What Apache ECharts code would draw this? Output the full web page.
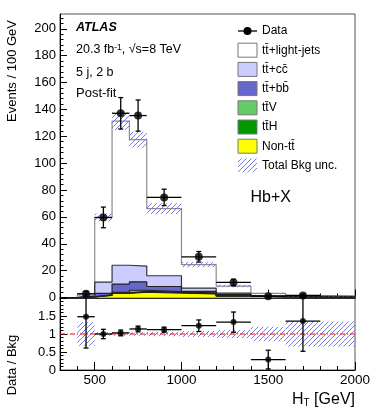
<!DOCTYPE html>
<html>
<head>
<meta charset="utf-8">
<title>Hb+X HT</title>
<script src="https://cdn.jsdelivr.net/npm/echarts@6/dist/echarts.min.js"></script>
<style>
  html, body { margin: 0; padding: 0; background: #fff; }
  #main { width: 374px; height: 414px; }
</style>
</head>
<body>
<div id="main"></div>
<script>
// bin edges (GeV)
var binLo = [400, 500, 600, 700, 800, 1000, 1200, 1400, 1600];
var binHi = [500, 600, 700, 800, 1000, 1200, 1400, 1600, 2000];

// background components, events / 100 GeV (bottom of stack first)
var nonTT   = [0.4, 1.5, 3.0, 4.0, 3.3, 2.6, 1.0, 0.4, 0.3];
var ttH     = [0.05, 0.2, 0.4, 0.6, 0.5, 0.3, 0.15, 0.05, 0.05];
var ttV     = [0.05, 0.2, 0.5, 0.8, 0.6, 0.4, 0.2, 0.1, 0.05];
var ttbb    = [0.3, 1.2, 6.1, 6.3, 3.8, 1.2, 1.0, 0.3, 0.2];
var ttcc    = [0.5, 8.4, 14.0, 11.7, 8.0, 2.5, 0.9, 0.4, 0.3];
var ttlight = [0.7, 48.0, 107.2, 94.1, 49.9, 17.4, 5.25, 1.75, 0.2];
// relative total background uncertainty per bin
var bkgRelUnc = [0.33, 0.05, 0.05, 0.05, 0.06, 0.08, 0.11, 0.2, 0.35];

// data points
var dataX   = [450, 550, 650, 750, 900, 1100, 1300, 1500, 1700];
var dataXLo = [400, 500, 600, 700, 800, 1000, 1200, 1400, 1600];
var dataXHi = [500, 600, 700, 800, 1000, 1200, 1400, 1600, 1800];
var dataY   = [2.8, 59.6, 137.1, 135.4, 74.5, 30.3, 11.2, 1.0, 1.5];
var dataErr = [1.7, 7.7, 11.7, 11.6, 6.1, 3.9, 2.4, 0.7, 0.9];

// data / bkg
var ratioY   = [1.48, 1.0, 1.03, 1.14, 1.12, 1.23, 1.33, 0.29, 1.36];
var ratioErr = [0.87, 0.13, 0.08, 0.08, 0.07, 0.16, 0.28, 0.26, 0.84];

// tick labels
var xTicks = [500, 1000, 1500, 2000];
var yTicks = [0, 20, 40, 60, 80, 100, 120, 140, 160, 180, 200];
var rTicks = [0, 0.5, 1, 1.5];
var rTickMarks = [0, 0.5, 1, 1.5, 2];

var FONT = 'Liberation Sans, Arial, Helvetica, sans-serif';

// stack the components
var comps = [nonTT, ttH, ttV, ttbb, ttcc, ttlight];
var compFill = ['#ffff00', '#009900', '#66cc66', '#6666cc', '#ccccff', '#ffffff'];
var compLine = ['#222', '#222', '#222', '#222', '#333', '#8a8a8a'];
var cumul = [];
var run = binLo.map(function() { return 0; });
comps.forEach(function(c) {
  run = run.map(function(v, i) { return v + c[i]; });
  cumul.push(run.slice());
});
var total = cumul[cumul.length - 1];

// histogram outline as step points
function stepPoints(vals) {
  var pts = [[binLo[0], 0]];
  for (var i = 0; i < vals.length; i++) pts.push([binLo[i], vals[i]]);
  var n = vals.length - 1;
  pts.push([binHi[n], vals[n]]);
  pts.push([binHi[n], 0]);
  return pts;
}

function makeHatch(color) {
  var s = 5;
  var c = document.createElement('canvas');
  c.width = s; c.height = s;
  var ctx = c.getContext('2d');
  ctx.strokeStyle = color;
  ctx.lineWidth = 1;
  ctx.beginPath();
  ctx.moveTo(0, s); ctx.lineTo(s, 0);
  ctx.moveTo(-1, 1); ctx.lineTo(1, -1);
  ctx.moveTo(s - 1, s + 1); ctx.lineTo(s + 1, s - 1);
  ctx.stroke();
  return c;
}
var hatch = { image: makeHatch('#7a7aee'), repeat: 'repeat' };

// series
var series = [];
for (var k = cumul.length - 1; k >= 0; k--) {
  series.push({
    type: 'line', xAxisIndex: 0, yAxisIndex: 0, step: 'end',
    symbol: 'none', silent: true, z: 2,
    data: stepPoints(cumul[k]),
    lineStyle: { color: compLine[k], width: 1.2 },
    areaStyle: { color: compFill[k], opacity: 1, origin: 0 }
  });
}

function bandItem(params, api) {
  var p0 = api.coord([api.value(0), api.value(3)]);
  var p1 = api.coord([api.value(1), api.value(2)]);
  return {
    type: 'rect',
    shape: { x: p0[0], y: p0[1], width: p1[0] - p0[0], height: p1[1] - p0[1] },
    style: { fill: hatch }
  };
}

series.push({
  type: 'custom', xAxisIndex: 0, yAxisIndex: 0, z: 3, silent: true,
  renderItem: bandItem,
  data: binLo.map(function(lo, i) {
    return [lo, binHi[i], total[i] * (1 - bkgRelUnc[i]), total[i] * (1 + bkgRelUnc[i])];
  })
});
series.push({
  type: 'custom', xAxisIndex: 2, yAxisIndex: 1, z: 3, silent: true,
  renderItem: bandItem,
  data: binLo.map(function(lo, i) {
    return [lo, binHi[i], 1 - bkgRelUnc[i], 1 + bkgRelUnc[i]];
  })
});

// unity line
series.push({
  type: 'line', xAxisIndex: 2, yAxisIndex: 1, symbol: 'none', silent: true, z: 4,
  data: [[300, 1], [2000, 1]],
  lineStyle: { color: '#ff0000', width: 1, type: [5, 2, 1, 2] }
});

function errItem(params, api) {
  var x = api.value(0), y = api.value(3), e = api.value(4);
  var cs = params.coordSys;
  var pl = api.coord([api.value(1), y]);
  var pr = api.coord([api.value(2), y]);
  var pt = api.coord([x, y + e]);
  var pb = api.coord([x, y - e]);
  var kids = [];
  var st = { stroke: '#000', lineWidth: 1.3 };
  kids.push({ type: 'line', shape: { x1: pl[0], y1: pl[1], x2: pr[0], y2: pr[1] }, style: st });
  var top = Math.max(pt[1], cs.y), bot = Math.min(pb[1], cs.y + cs.height);
  kids.push({ type: 'line', shape: { x1: pt[0], y1: top, x2: pb[0], y2: bot }, style: st });
  if (pt[1] >= cs.y) kids.push({ type: 'line', shape: { x1: pt[0] - 2.5, y1: pt[1], x2: pt[0] + 2.5, y2: pt[1] }, style: st });
  if (pb[1] <= cs.y + cs.height) kids.push({ type: 'line', shape: { x1: pb[0] - 2.5, y1: pb[1], x2: pb[0] + 2.5, y2: pb[1] }, style: st });
  return { type: 'group', children: kids };
}

series.push({
  type: 'custom', xAxisIndex: 0, yAxisIndex: 0, z: 5, silent: true,
  renderItem: errItem,
  data: dataX.map(function(x, i) { return [x, dataXLo[i], dataXHi[i], dataY[i], dataErr[i]]; })
});
series.push({
  type: 'scatter', xAxisIndex: 0, yAxisIndex: 0, z: 6, silent: true,
  symbol: 'circle', symbolSize: 8, itemStyle: { color: '#000' },
  data: dataX.map(function(x, i) { return [x, dataY[i]]; })
});
series.push({
  type: 'custom', xAxisIndex: 2, yAxisIndex: 1, z: 5, silent: true,
  renderItem: errItem,
  data: dataX.map(function(x, i) { return [x, dataXLo[i], dataXHi[i], ratioY[i], ratioErr[i]]; })
});
series.push({
  type: 'scatter', xAxisIndex: 2, yAxisIndex: 1, z: 6, silent: true,
  symbol: 'circle', symbolSize: 6, itemStyle: { color: '#000' },
  data: dataX.map(function(x, i) { return [x, ratioY[i]]; })
});

// legend drawn with graphic elements
var legNames = ['tt\u0304+light-jets', 'tt\u0304+cc\u0304', 'tt\u0304+bb\u0304', 'tt\u0304V', 'tt\u0304H', 'Non-tt\u0304'];
var legFill = ['#ffffff', '#ccccff', '#6666cc', '#66cc66', '#009900', '#ffff00'];
var legY0 = 31, legDy = 19.2, legX = 238;
var graphics = [];
function txt(x, y, s, size, extra) {
  return {
    type: 'text', x: x, y: y, silent: true,
    style: { text: s, font: (extra || '') + ' ' + size + 'px ' + FONT, fill: '#000',
             align: 'left', verticalAlign: 'middle', textAlign: 'left', textVerticalAlign: 'middle' }
  };
}
graphics.push({ type: 'line', silent: true, shape: { x1: legX, y1: legY0, x2: legX + 19, y2: legY0 }, style: { stroke: '#000', lineWidth: 1.3 } });
graphics.push({ type: 'circle', silent: true, shape: { cx: legX + 9.5, cy: legY0, r: 4 }, style: { fill: '#000' } });
graphics.push(txt(262, legY0, 'Data', 12));
for (var j = 0; j < legNames.length; j++) {
  var cy = legY0 + legDy * (j + 1);
  graphics.push({ type: 'rect', silent: true, shape: { x: legX, y: cy - 7, width: 19, height: 14 },
                  style: { fill: legFill[j], stroke: '#777', lineWidth: 1 } });
  graphics.push(txt(262, cy, legNames[j], 12));
}
var cyU = legY0 + legDy * 7;
graphics.push({ type: 'rect', silent: true, shape: { x: legX, y: cyU - 7, width: 19, height: 14 }, style: { fill: hatch } });
graphics.push(txt(262, cyU, 'Total Bkg unc.', 12));

graphics.push(txt(76, 28, 'ATLAS', 12.5, 'italic bold'));
graphics.push({
  type: 'text', x: 76, y: 50, silent: true,
  style: {
    text: '20.3 fb{sup|-1}, \u221As=8 TeV', font: '12.5px ' + FONT, fill: '#000',
    align: 'left', verticalAlign: 'middle', textAlign: 'left', textVerticalAlign: 'middle',
    rich: { sup: { fontSize: 8.5, fontFamily: FONT, verticalAlign: 'top', fill: '#000' } }
  }
});
graphics.push(txt(76, 72.7, '5 j, 2 b', 12.5));
graphics.push(txt(76, 93.3, 'Post-fit', 13));
graphics.push(txt(250.5, 197.7, 'Hb+X', 16));

// axis titles
graphics.push({
  type: 'text', x: 12, y: 20, rotation: Math.PI / 2, silent: true,
  style: { text: 'Events / 100 GeV', font: '13px ' + FONT, fill: '#000',
           align: 'right', verticalAlign: 'middle', textAlign: 'right', textVerticalAlign: 'middle' }
});
graphics.push({
  type: 'text', x: 12, y: 365, rotation: Math.PI / 2, silent: true,
  style: { text: 'Data / Bkg', font: '13px ' + FONT, fill: '#000',
           align: 'center', verticalAlign: 'middle', textAlign: 'center', textVerticalAlign: 'middle' }
});
graphics.push({
  type: 'text', x: 355, y: 400, silent: true,
  style: {
    text: 'H{sub|T} [GeV]', font: '16px ' + FONT, fill: '#000',
    align: 'right', verticalAlign: 'middle', textAlign: 'right', textVerticalAlign: 'middle',
    rich: { sub: { fontSize: 10, fontFamily: FONT, verticalAlign: 'bottom', fill: '#000' } }
  }
});

function xMajor(gi, labels) {
  return {
    type: 'value', gridIndex: gi, min: 300, max: 2000, interval: 100, position: 'bottom',
    axisLine: { show: true, onZero: false, lineStyle: { color: '#000', width: gi === 0 ? 1.5 : 1 } },
    axisTick: { show: true, inside: true, length: 8, customValues: xTicks, lineStyle: { color: '#000' } },
    axisLabel: { show: labels, customValues: xTicks, margin: 3, fontSize: 13.5, fontFamily: FONT, color: '#000',
                 formatter: function(v) { return String(v); } },
    splitLine: { show: false }
  };
}
function xMinor(gi) {
  return {
    type: 'value', gridIndex: gi, min: 300, max: 2000, interval: 100, position: 'bottom',
    axisLine: { show: false, onZero: false },
    axisTick: { show: true, inside: true, length: 4, lineStyle: { color: '#000' } },
    axisLabel: { show: false },
    splitLine: { show: false }
  };
}

var chart = echarts.init(document.getElementById('main'), null, { renderer: 'canvas' });
chart.setOption({
  animation: false,
  backgroundColor: '#fff',
  grid: [
    { left: 60, top: 14, width: 295, height: 283.5, show: true, borderColor: '#555', borderWidth: 1, backgroundColor: 'transparent', outerBoundsMode: 'none', containLabel: false },
    { left: 60, top: 298, width: 295, height: 72, show: true, borderColor: '#555', borderWidth: 1, backgroundColor: 'transparent', outerBoundsMode: 'none', containLabel: false }
  ],
  xAxis: [xMajor(0, false), xMinor(0), xMajor(1, true), xMinor(1)],
  yAxis: [
    {
      type: 'value', gridIndex: 0, min: 0, max: 211, interval: 20,
      axisLine: { show: true, lineStyle: { color: '#000' } },
      axisTick: { show: true, inside: true, length: 7, customValues: yTicks, lineStyle: { color: '#000' } },
      minorTick: { show: true, splitNumber: 5, length: 3.5, lineStyle: { color: '#000' } },
      axisLabel: { customValues: yTicks, margin: 4, fontSize: 13, fontFamily: FONT, color: '#000' },
      splitLine: { show: false }
    },
    {
      type: 'value', gridIndex: 1, min: 0, max: 2, interval: 0.5,
      axisLine: { show: true, lineStyle: { color: '#000' } },
      axisTick: { show: true, inside: true, length: 7, customValues: rTickMarks, lineStyle: { color: '#000' } },
      minorTick: { show: true, splitNumber: 5, length: 3.5, lineStyle: { color: '#000' } },
      axisLabel: { customValues: rTicks, margin: 4, fontSize: 13, fontFamily: FONT, color: '#000' },
      splitLine: { show: false }
    }
  ],
  graphic: graphics,
  series: series
});
</script>
</body>
</html>
